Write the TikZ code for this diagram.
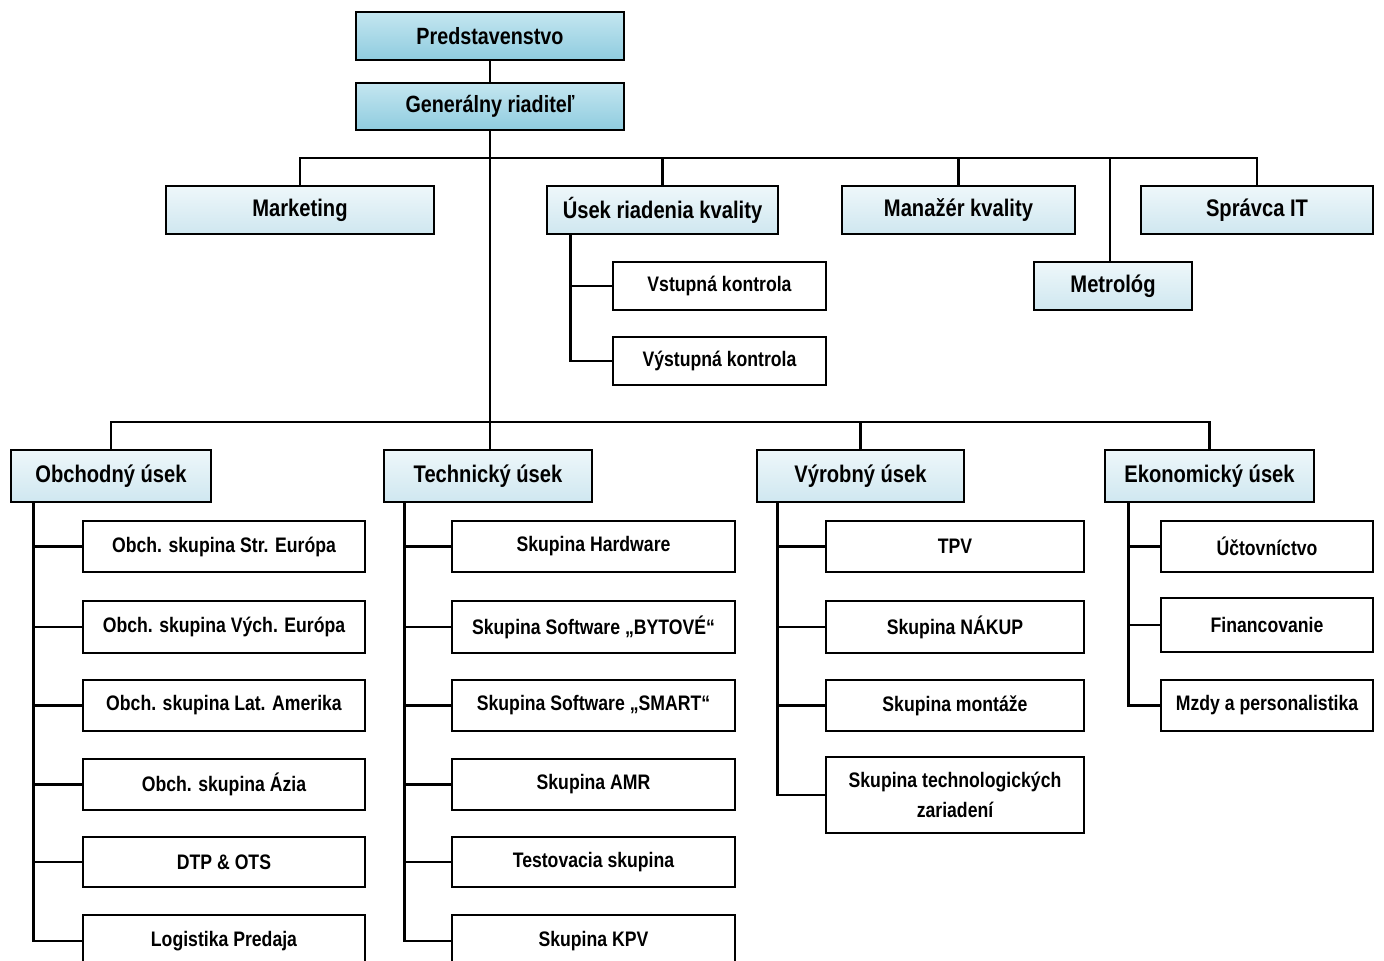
\documentclass[tikz,border=0pt]{standalone}
\usepackage{fontspec}
\setmainfont{Liberation Sans}[FakeStretch=0.84]
\definecolor{topA}{HTML}{C4E6F0}
\definecolor{topB}{HTML}{8FCCDF}
\definecolor{lvlA}{HTML}{EEF7FA}
\definecolor{lvlB}{HTML}{CFE7F0}
\tikzset{
  base/.style={draw=black, line width=2.6pt, inner sep=0pt, align=center, font=\bfseries},
  topbox/.style={base, top color=topA, bottom color=topB, font=\bfseries\fontsize{23.5}{26}\selectfont},
  lvlbox/.style={base, top color=lvlA, bottom color=lvlB, font=\bfseries\fontsize{24}{26}\selectfont},
  subbox/.style={base, fill=white, font=\bfseries\fontsize{21}{30}\selectfont},
  conn/.style={draw=black, line width=2.6pt},
}
\newcommand{\bx}[7]{\node[#2, minimum width={(#5-#3)*1pt}, minimum height={(#6-#4)*1pt}] (#1) at ({(#3+#5)/2},{(#4+#6)/2}) {#7};}
\begin{document}
\begin{tikzpicture}[x=1pt,y=-1pt]
\useasboundingbox (0,0) rectangle (1384,961);
\clip (0,0) rectangle (1384,961);
% top
\bx{pred}{topbox}{356}{12}{624}{60}{Predstavenstvo}
\bx{gen}{topbox}{356}{83}{624}{130}{Generálny riaditeľ}
% level 2
\bx{mkt}{lvlbox}{166}{186}{434}{234}{Marketing}
\bx{urk}{lvlbox}{547}{186}{778}{234}{Úsek riadenia kvality}
\bx{mk}{lvlbox}{842}{186}{1075}{234}{Manažér kvality}
\bx{met}{lvlbox}{1034}{262}{1192}{310}{Metrológ}
\bx{it}{lvlbox}{1141}{186}{1373}{234}{Správca IT}
\bx{vst}{subbox}{613}{262}{826}{310}{Vstupná kontrola}
\bx{vys}{subbox}{613}{337}{826}{385}{Výstupná kontrola}
% level 3
\bx{obch}{lvlbox}{11}{450}{211}{502}{Obchodný úsek}
\bx{tech}{lvlbox}{384}{450}{592}{502}{Technický úsek}
\bx{vyr}{lvlbox}{757}{450}{964}{502}{Výrobný úsek}
\bx{eko}{lvlbox}{1105}{450}{1314}{502}{Ekonomický úsek}
% obchodny
\bx{o1}{subbox}{83}{521}{365}{572}{Obch. skupina Str. Európa}
\bx{o2}{subbox}{83}{601}{365}{653}{Obch. skupina Vých. Európa}
\bx{o3}{subbox}{83}{680}{365}{731}{Obch. skupina Lat. Amerika}
\bx{o4}{subbox}{83}{759}{365}{810}{Obch. skupina Ázia}
\bx{o5}{subbox}{83}{837}{365}{887}{DTP \& OTS}
\bx{o6}{subbox}{83}{915}{365}{967}{Logistika Predaja}
% technicky
\bx{t1}{subbox}{452}{521}{735}{572}{Skupina Hardware}
\bx{t2}{subbox}{452}{601}{735}{653}{Skupina Software „BYTOVÉ“}
\bx{t3}{subbox}{452}{680}{735}{731}{Skupina Software „SMART“}
\bx{t4}{subbox}{452}{759}{735}{810}{Skupina AMR}
\bx{t5}{subbox}{452}{837}{735}{887}{Testovacia skupina}
\bx{t6}{subbox}{452}{915}{735}{967}{Skupina KPV}
% vyrobny
\bx{v1}{subbox}{826}{521}{1084}{572}{TPV}
\bx{v2}{subbox}{826}{601}{1084}{653}{Skupina NÁKUP}
\bx{v3}{subbox}{826}{680}{1084}{731}{Skupina montáže}
\bx{v4}{subbox}{826}{757}{1084}{833}{Skupina technologických\\zariadení}
% ekonomicky
\bx{e1}{subbox}{1161}{521}{1373}{572}{Účtovníctvo}
\bx{e2}{subbox}{1161}{598}{1373}{652}{Financovanie}
\bx{e3}{subbox}{1161}{680}{1373}{731}{Mzdy a personalistika}
% connectors
\coordinate (bar1) at (489,158);
\coordinate (bar2) at (489,422);
\draw[conn] (pred) -- (gen);
\draw[conn] (gen.south) -- (gen.south |- tech.north);
\draw[conn] (mkt.north) -- (mkt.north |- bar1) -- (it.north |- bar1) -- (it.north);
\draw[conn] (urk.north) -- (urk.north |- bar1);
\draw[conn] (mk.north) -- (mk.north |- bar1);
\draw[conn] ([xshift=-3pt]met.north) -- ([xshift=-3pt]met.north |- bar1);
\draw[conn] (obch.north) -- (obch.north |- bar2) -- (eko.north |- bar2) -- (eko.north);
\draw[conn] (vyr.north) -- (vyr.north |- bar2);
\foreach \c in {vst,vys} \draw[conn] ([xshift=25pt]urk.south west) |- (\c.west);
\foreach \c in {o1,o2,o3,o4,o5,o6} \draw[conn] ([xshift=24pt]obch.south west) |- (\c.west);
\foreach \c in {t1,t2,t3,t4,t5,t6} \draw[conn] ([xshift=22pt]tech.south west) |- (\c.west);
\foreach \c in {v1,v2,v3,v4} \draw[conn] ([xshift=22pt]vyr.south west) |- (\c.west);
\foreach \c in {e1,e2,e3} \draw[conn] ([xshift=25pt]eko.south west) |- (\c.west);
\end{tikzpicture}
\end{document}
